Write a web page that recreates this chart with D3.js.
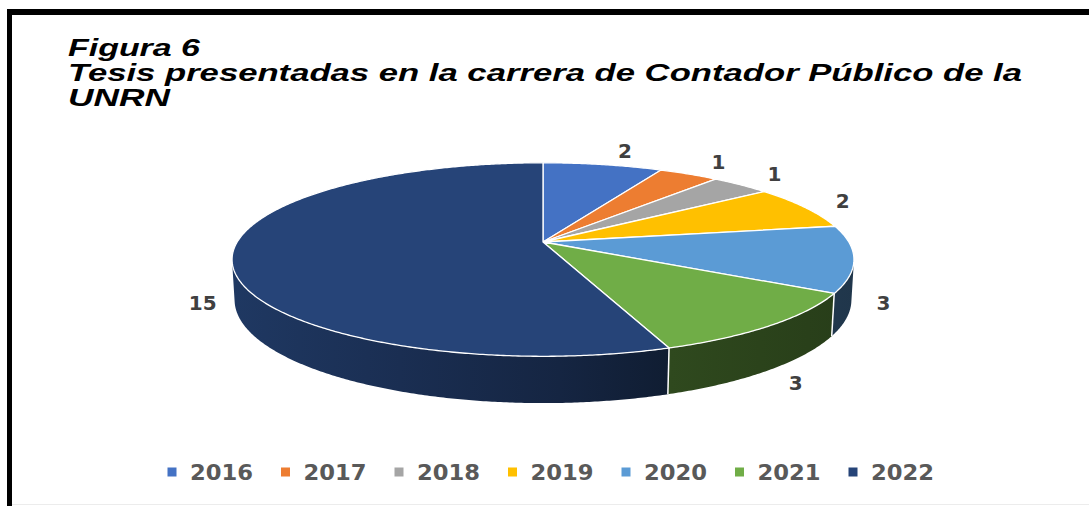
<!DOCTYPE html>
<html>
<head>
<meta charset="utf-8">
<script src="https://cdn.jsdelivr.net/npm/d3@7/dist/d3.min.js"></script>
<style>
  html, body { margin: 0; padding: 0; background: #fff; }
  svg { display: block; }
</style>
</head>
<body>
<div id="chart"></div>
<script>
// data
const years = ["2016", "2017", "2018", "2019", "2020", "2021", "2022"]
const counts = [2, 1, 1, 2, 3, 3, 15]
const colors = ["#4472C4", "#ED7D31", "#A5A5A5", "#FFC000", "#5B9BD5", "#70AD47", "#264478"]
const titleLines = ["Figura 6", "Tesis presentadas en la carrera de Contador Público de la", "UNRN"]

const width = 1089, height = 506

let svg = d3.select('#chart').append('svg')
  .attr('width', width)
  .attr('height', height)

svg.append('rect').attr('width', width).attr('height', height).attr('fill', '#fff')

// frame (top + left black bands, faint bottom line)
svg.append('rect').attr('x', 7).attr('y', 9).attr('width', width - 7).attr('height', 6).attr('fill', '#000')
svg.append('rect').attr('x', 7).attr('y', 9).attr('width', 5).attr('height', height - 9).attr('fill', '#000')
svg.append('rect').attr('x', 12).attr('y', 504).attr('width', width - 12).attr('height', 1).attr('fill', '#ececec')

// title
const titleLen = [132, 954, 102]
svg.append('g').selectAll('text')
  .data(titleLines)
  .enter()
  .append('text')
  .attr('x', 68)
  .attr('y', (d, i) => 56 + i * 25)
  .attr('textLength', (d, i) => titleLen[i])
  .attr('lengthAdjust', 'spacingAndGlyphs')
  .style('font-family', '"Liberation Sans", Arial, sans-serif')
  .style('font-weight', 'bold')
  .style('font-style', 'italic')
  .style('font-size', '23px')
  .style('fill', '#000')
  .text(d => d)

// ---- perspective projection of a 3D disk ----
const cx = 543, cy = 242
const sinP = 0.306, cosP = Math.sqrt(1 - sinP * sinP)
const D = 5.252, f = 1606, thick = 0.136

function project(theta, r, Y) {
  let X = r * Math.sin(theta), Z = -r * Math.cos(theta)
  let depth = D - (Y * sinP + Z * cosP)
  let v = Y * cosP - Z * sinP
  return [cx + f * X / depth, cy - f * v / depth]
}

// visible side of the cylinder (silhouette tangents)
const tz = 1 / (D * cosP)
const visA = Math.acos(-tz), visB = 2 * Math.PI - Math.acos(-tz)

const pie = d3.pie().sort(null).value(d => d)
const arcs = pie(counts)

const line = d3.line()

function rimPoints(a, b, Y) {
  let n = Math.max(2, Math.ceil((b - a) / 0.008))
  return d3.range(n + 1).map(i => project(a + (b - a) * i / n, 1, Y))
}

// side shading: lighter on the left, darker to the right
const shade = d3.scaleLinear().domain([233, 560, 670, 855]).range([0.82, 0.55, 0.42, 0.35]).clamp(true)
const defs = svg.append('defs')

arcs.forEach((d, i) => {
  let g = defs.append('linearGradient')
    .attr('id', 'side' + i)
    .attr('gradientUnits', 'userSpaceOnUse')
    .attr('x1', 233).attr('x2', 855).attr('y1', 0).attr('y2', 0)
  let c = d3.rgb(colors[i])
  ;[233, 400, 560, 670, 760, 855].forEach(x => {
    let k = shade(x)
    g.append('stop')
      .attr('offset', (x - 233) / (855 - 233))
      .attr('stop-color', d3.rgb(c.r * k, c.g * k, c.b * k).formatHex())
  })
})

let sides = svg.append('g').attr('class', 'sides')
let tops = svg.append('g').attr('class', 'tops')
let labelsGroup = svg.append('g').attr('class', 'labels')

arcs.forEach((d, i) => {
  let a = Math.max(d.startAngle, visA), b = Math.min(d.endAngle, visB)
  if (b <= a) return
  let pts = rimPoints(a, b, 0).concat(rimPoints(a, b, -thick).reverse())
  sides.append('path')
    .attr('d', line(pts) + 'Z')
    .attr('fill', 'url(#side' + i + ')')
})

// white seams on the side between slices
arcs.forEach(d => {
  let th = d.startAngle
  if (th > visA && th < visB) {
    sides.append('path')
      .attr('d', line([project(th, 1, 0), project(th, 1, -thick)]))
      .attr('stroke', '#fff')
      .attr('stroke-width', 1.5)
  }
})

tops.selectAll('path')
  .data(arcs)
  .enter()
  .append('path')
  .attr('d', d => line([[cx, cy]].concat(rimPoints(d.startAngle, d.endAngle, 0))) + 'Z')
  .attr('fill', (d, i) => colors[i])
  .attr('stroke', '#fff')
  .attr('stroke-width', 1.3)
  .attr('stroke-linejoin', 'round')

// data labels, just outside each slice (far ones at the top rim, near ones at the base)
labelsGroup.selectAll('text')
  .data(arcs)
  .enter()
  .append('text')
  .each(function (d) {
    let mid = (d.startAngle + d.endAngle) / 2
    let c = Math.cos(mid), far = c > 0
    let p = project(mid, far ? 1.13 : 1.10, far ? 0 : -thick)
    d3.select(this)
      .attr('x', p[0] + (far ? 16 * c : 0))
      .attr('y', p[1] + (far ? -6 * c : 2))
  })
  .attr('dy', '0.36em')
  .attr('text-anchor', 'middle')
  .style('font-family', '"DejaVu Sans", sans-serif')
  .style('font-weight', 'bold')
  .style('font-size', '20px')
  .style('fill', '#404040')
  .text(d => d.data)

// legend
const legendX = d3.scaleLinear().domain([0, years.length - 1]).range([172, 853])
let legend = svg.append('g').attr('class', 'legend')
let items = legend.selectAll('g')
  .data(years)
  .enter()
  .append('g')
  .attr('transform', (d, i) => 'translate(' + legendX(i) + ',472)')

items.append('rect')
  .attr('x', -4.5).attr('y', -4.5)
  .attr('width', 9).attr('height', 9)
  .attr('fill', (d, i) => colors[i])

items.append('text')
  .attr('x', 18)
  .attr('dy', '0.36em')
  .attr('textLength', 63)
  .attr('lengthAdjust', 'spacingAndGlyphs')
  .style('font-family', '"DejaVu Sans", sans-serif')
  .style('font-weight', 'bold')
  .style('font-size', '21px')
  .style('fill', '#595959')
  .text(d => d)
</script>
</body>
</html>
